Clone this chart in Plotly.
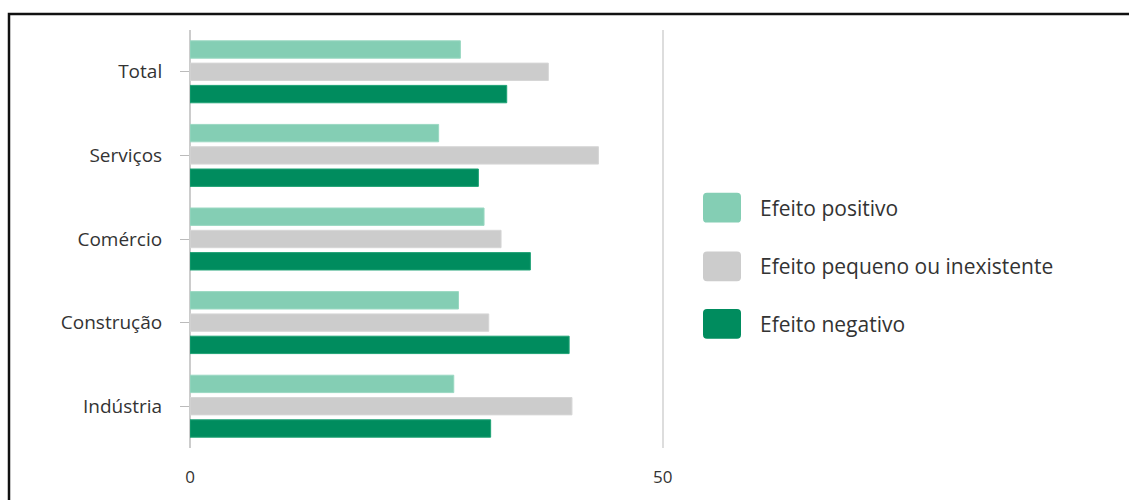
import plotly.graph_objects as go

categories = ["Total", "Serviços", "Comércio", "Construção", "Indústria"]
series_names = ["Efeito positivo", "Efeito pequeno ou inexistente", "Efeito negativo"]
positivo = [28.6, 26.3, 31.1, 28.4, 27.9]
pequeno = [37.9, 43.2, 32.9, 31.6, 40.4]
negativo = [33.5, 30.5, 36.0, 40.1, 31.8]
colors = ["#84CEB4", "#CCCCCC", "#008C5E"]
line_colors = ["#9AD8C2", "#D6D6D6", "#1FA275"]
x_ticks = [0, 50]

W, H = 1129, 500
L, R_M, T, B = 190, 419, 30, 49
pw, ph = W - L - R_M, H - T - B

fig = go.Figure()
for name, vals, c, lc in zip(series_names, [positivo, pequeno, negativo], colors, line_colors):
    fig.add_trace(go.Bar(
        y=categories, x=vals, name=name, orientation="h",
        marker=dict(color=c, line=dict(color=lc, width=1)),
        showlegend=False,
    ))

def px_x(p):
    return (p - L) / pw

def px_y(p):
    return (H - B - p) / ph

def rounded_rect(x0, x1, y0, y1, r):
    # pixel coords -> paper path with rounded corners
    pts = [
        f"M{px_x(x0 + r)},{px_y(y0)}",
        f"L{px_x(x1 - r)},{px_y(y0)}",
        f"Q{px_x(x1)},{px_y(y0)} {px_x(x1)},{px_y(y0 + r)}",
        f"L{px_x(x1)},{px_y(y1 - r)}",
        f"Q{px_x(x1)},{px_y(y1)} {px_x(x1 - r)},{px_y(y1)}",
        f"L{px_x(x0 + r)},{px_y(y1)}",
        f"Q{px_x(x0)},{px_y(y1)} {px_x(x0)},{px_y(y1 - r)}",
        f"L{px_x(x0)},{px_y(y0 + r)}",
        f"Q{px_x(x0)},{px_y(y0)} {px_x(x0 + r)},{px_y(y0)}",
        "Z",
    ]
    return " ".join(pts)

shapes = []
annotations = []
# manual legend
leg_y = [209, 268, 326]
for name, c, yy in zip(series_names, colors, leg_y):
    shapes.append(dict(type="path", xref="paper", yref="paper",
                       path=rounded_rect(703, 741, yy - 15, yy + 15, 4),
                       fillcolor=c, line=dict(width=0), layer="above"))
    annotations.append(dict(text=name, xref="paper", yref="paper", x=px_x(758), y=px_y(yy),
                            xanchor="left", yanchor="middle", showarrow=False,
                            font=dict(family="Open Sans", size=21, color="#333333")))

# outer frame
shapes.append(dict(type="rect", xref="paper", yref="paper",
                   x0=px_x(9), x1=px_x(1140), y0=px_y(510), y1=px_y(14),
                   line=dict(color="#111111", width=2.5), fillcolor="rgba(0,0,0,0)"))

fig.update_layout(
    width=W, height=H,
    margin=dict(l=L, r=R_M, t=T, b=B, pad=0),
    paper_bgcolor="white", plot_bgcolor="white",
    barmode="group", bargap=0.2, bargroupgap=0.22,
    font=dict(family="Open Sans", size=17, color="#333333"),
    shapes=shapes, annotations=annotations,
    xaxis=dict(range=[0, 55], tickvals=x_ticks, showgrid=True, gridcolor="#DDDDDD", gridwidth=2,
               zeroline=True, zerolinecolor="#CCCCCC", zerolinewidth=2,
               showline=False, ticks="outside", ticklen=14, tickcolor="rgba(0,0,0,0)",
               tickfont=dict(size=17, color="#333333")),
    yaxis=dict(autorange="reversed", categoryorder="array", categoryarray=categories,
               ticks="outside", ticklen=9, tickcolor="#BBBBBB", tickwidth=1,
               showline=False, showgrid=False, ticklabelstandoff=14,
               tickfont=dict(size=19, color="#333333")),
)

fig.write_html("out.html")
